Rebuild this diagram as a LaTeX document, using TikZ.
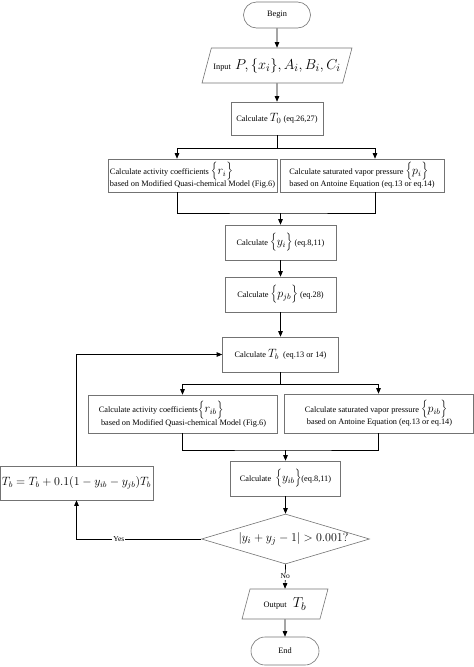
\documentclass[tikz,border=0pt]{standalone}
\usepackage{fontspec}
\setmainfont{Liberation Serif}
\usetikzlibrary{shapes.geometric,shapes.misc,arrows.meta}
\newcommand\mth[1]{{\fontsize{12}{14}\selectfont$#1$}}
\newcommand\bmth[1]{{\fontsize{15}{17}\selectfont$#1$}}
\newcommand\hmth[1]{{\fontsize{13}{16}\selectfont$#1$}}
\begin{document}
\begin{tikzpicture}[x=1pt,y=-1pt,
  bx/.style={draw=black!55, line width=0.6pt, inner sep=2pt, font=\fontsize{8.3}{12.5}\selectfont},
  term/.style={bx, rounded rectangle},
  io/.style={bx, trapezium, trapezium left angle=64, trapezium right angle=116, trapezium stretches=true},
  conn/.style={line width=0.7pt, black},
  arr/.style={conn, -{Triangle[length=5.5pt,width=4.5pt]}},
  lbl/.style={fill=white, inner sep=1pt, font=\fontsize{7.5}{9}\selectfont}
]
\useasboundingbox (0,0) rectangle (474,667);

\node[term, minimum width=71, minimum height=26] (begin) at (277,15) {Begin};
\node[io, minimum width=150, minimum height=35] (input) at (277,65.5) {Input\ \ \bmth{P,\Bigl\{x_i\Bigr\},A_i,B_i,C_i}};
\node[bx, minimum width=92, minimum height=33] (t0) at (277,118.5) {Calculate \mth{T_0} (eq.26,27)};
\node[bx, minimum width=159, minimum height=33, align=left] (r1) at (192.5,175.5) {Calculate activity coefficients \mth{\Bigl\{r_i\Bigr\}}\\based on Modified Quasi-chemical Model (Fig.6)};
\node[bx, minimum width=164, minimum height=33, align=left] (p1) at (362,175.5) {Calculate saturated vapor pressure \mth{\Bigl\{p_i\Bigr\}}\\based on Antoine Equation (eq.13 or eq.14)};
\node[bx, minimum width=111, minimum height=35] (yi) at (280.5,242.5) {Calculate \mth{\Bigl\{y_i\Bigr\}} (eq.8,11)};
\node[bx, minimum width=111, minimum height=35] (pjb) at (280.5,294.5) {Calculate \mth{\Bigl\{p_{jb}\Bigr\}} (eq.28)};
\node[bx, minimum width=116, minimum height=35] (tb) at (280.5,354.5) {Calculate \mth{T_b}\ \ (eq.13 or 14)};
\node[bx, minimum width=189, minimum height=38, align=left] (rib) at (182.5,414) {Calculate activity coefficients\mth{\Bigl\{r_{ib}\Bigr\}}\\\ based on Modified Quasi-chemical Model (Fig.6)};
\node[bx, minimum width=189, minimum height=39, align=left] (pib) at (378.5,413.5) {Calculate saturated vapor pressure \mth{\Bigl\{p_{ib}\Bigr\}}\\\ based on Antoine Equation (eq.13 or eq.14)};
\node[bx, minimum width=110, minimum height=35] (yib) at (285.5,478.5) {Calculate \ \mth{\Bigl\{y_{ib}\Bigr\}}(eq.8,11)};
\node[bx, diamond, minimum width=168, minimum height=50, inner sep=0pt,
  label={[xshift=8pt]center:\hmth{\bigl|y_i+y_j-1\bigr|>0.001?}}] (dia) at (285.5,539) {};
\node[bx, minimum width=151, minimum height=34] (fb) at (76.5,483) {{\fontsize{11.5}{14}\selectfont$T_b=T_b+0.1\bigl(1-y_{ib}-y_{jb}\bigr)T_b$}};
\node[bx, trapezium, trapezium left angle=72, trapezium right angle=108, trapezium stretches=true, minimum width=86, minimum height=30] (out) at (285,604) {Output\ \ \ \bmth{T_b}};
\node[term, minimum width=72, minimum height=28] (end) at (285,651) {End};

\coordinate (s1) at (277,148);
\coordinate (a1) at (177,148);
\coordinate (a2) at (375,148);
\coordinate (j1) at (280.5,213);
\coordinate (s2) at (280.5,384);
\coordinate (j2) at (285.5,450);

\draw[arr] (begin) -- (input);
\draw[arr] (input) -- (t0);
\draw[conn] (t0) -- (s1);
\draw[arr] (s1) -| (a1 |- r1.north);
\draw[arr] (s1) -| (a2 |- p1.north);
\draw[conn] (a1 |- r1.south) |- (j1) -| (a2 |- p1.south);
\draw[arr] (j1) -- (yi);
\draw[arr] (yi) -- (pjb);
\draw[arr] (pjb) -- (tb);
\draw[conn] (tb) -- (s2);
\draw[arr] (s2) -| (rib.north);
\draw[arr] (s2) -| (pib.north);
\draw[conn] (rib.south) |- (j2) -| (pib.south);
\draw[arr] (j2) -- (yib);
\draw[arr] (yib) -- (dia);
\draw[arr] (dia.west) -| node[lbl, pos=0.33] {Yes} (fb.south);
\draw[arr] (fb.north) |- (tb.west);
\draw[arr] (dia.south) -- node[lbl] {No} (out.north);
\draw[arr] (out.south) -- (end.north);
\end{tikzpicture}
\end{document}
